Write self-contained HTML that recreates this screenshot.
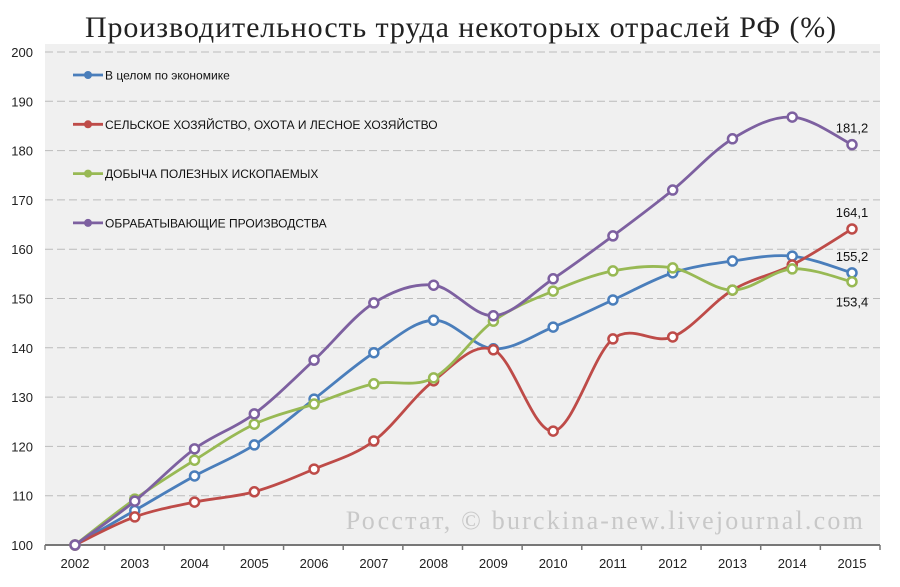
<!DOCTYPE html>
<html><head><meta charset="utf-8"><style>
body{margin:0;background:#fff;width:900px;height:582px;overflow:hidden}
svg text{font-family:"Liberation Sans",sans-serif}
</style></head><body>
<svg width="900" height="582">
<rect x="0" y="0" width="900" height="582" fill="#fff"/>
<rect x="45" y="44" width="835" height="501" fill="#f0f0f0"/>
<text x="461" y="37" text-anchor="middle" font-size="30" letter-spacing="0.9" style="font-family:'Liberation Serif',serif" fill="#222">Производительность труда некоторых отраслей РФ (%)</text>
<g id="grid"></g><g id="axes"></g>
<text x="865" y="529" text-anchor="end" font-size="26" letter-spacing="2.2" style="font-family:'Liberation Serif',serif" fill="#c8c8c8">Росстат, © burckina-new.livejournal.com</text>
<g id="series"></g><g id="legend"></g>
</svg>
<script>
const years=[2002,2003,2004,2005,2006,2007,2008,2009,2010,2011,2012,2013,2014,2015];
const economy=[100,107,114,120.3,129.6,139,145.6,139.8,144.2,149.7,155.2,157.6,158.6,155.2];
const agriculture=[100,105.7,108.7,110.8,115.4,121.1,133.3,139.6,123.1,141.8,142.2,151.7,156.8,164.1];
const mining=[100,109.3,117.2,124.5,128.6,132.7,133.9,145.4,151.5,155.6,156.2,151.7,156,153.4];
const manufacturing=[100,108.9,119.5,126.6,137.5,149.1,152.7,146.5,154,162.7,172,182.4,186.8,181.2];
const yTicks=[100,110,120,130,140,150,160,170,180,190,200];
const names=["В целом по экономике","СЕЛЬСКОЕ ХОЗЯЙСТВО, ОХОТА И ЛЕСНОЕ ХОЗЯЙСТВО","ДОБЫЧА ПОЛЕЗНЫХ ИСКОПАЕМЫХ","ОБРАБАТЫВАЮЩИЕ ПРОИЗВОДСТВА"];
const NS="http://www.w3.org/2000/svg";
const X=i=>75+i*(852-75)/13;
const Y=v=>545-(v-100)*4.93;
function mk(t,a,p){const e=document.createElementNS(NS,t);for(const k in a)e.setAttribute(k,a[k]);p.appendChild(e);return e;}
const grid=document.getElementById('grid'),axes=document.getElementById('axes'),ser=document.getElementById('series'),leg=document.getElementById('legend');
yTicks.forEach(v=>{
 if(v>100){const l=mk('line',{x1:45,x2:880,y1:Y(v),y2:Y(v),stroke:'#bbb','stroke-dasharray':'8,4','stroke-width':1},grid);
 
 }
 const t=mk('text',{x:33,y:Y(v)+5,'text-anchor':'end','font-size':13,fill:'#222'},axes);t.textContent=v;
 
 
});
const ax=mk('line',{x1:45,x2:880,y1:545,y2:545,stroke:'#777','stroke-width':2},axes);


for(let i=0;i<=14;i++){const x=45+i*(835/14);mk('line',{x1:x,x2:x,y1:545,y2:550,stroke:'#777','stroke-width':1.5},axes);}
years.forEach((y,i)=>{const t=mk('text',{x:X(i),y:568,'text-anchor':'middle','font-size':13,fill:'#222'},axes);t.textContent=y;
 
 });
function path(d){let p=`M${X(0)},${Y(d[0])}`;for(let i=0;i<d.length-1;i++){const p0=[X(Math.max(i-1,0)),Y(d[Math.max(i-1,0)])],p1=[X(i),Y(d[i])],p2=[X(i+1),Y(d[i+1])],p3=[X(Math.min(i+2,d.length-1)),Y(d[Math.min(i+2,d.length-1)])];const t=1/6;
p+=` C${p1[0]+(p2[0]-p0[0])*t},${p1[1]+(p2[1]-p0[1])*t} ${p2[0]-(p3[0]-p1[0])*t},${p2[1]-(p3[1]-p1[1])*t} ${p2[0]},${p2[1]}`;}return p;}
const all=[[economy,'#4a7ebb','economy'],[agriculture,'#be4b48','agriculture'],[mining,'#98b954','mining'],[manufacturing,'#7d60a0','manufacturing']];
all.forEach(([d,c,n],k)=>{
 const g=mk('g',{},ser);
 
 
 mk('path',{d:path(d),fill:'none',stroke:c,'stroke-width':2.8},g);
 d.forEach((v,i)=>{const m=mk('circle',{cx:X(i),cy:Y(v),r:4.5,fill:'#fff',stroke:c,'stroke-width':2.5},g);
 
 });
 const ly=75+k*49.3;
 const lg=mk('g',{},leg);
 
 
 mk('line',{x1:73,x2:103,y1:ly,y2:ly,stroke:c,'stroke-width':2.8},lg);
 mk('circle',{cx:88,cy:ly,r:4,fill:c},lg);
 const t=mk('text',{x:105,y:ly+4.5,'font-size':12,fill:'#111'},lg);t.textContent=names[k];
});
const labs=[[manufacturing,-16,'181,2'],[agriculture,-16,'164,1'],[economy,-16,'155,2'],[mining,21,'153,4']];
labs.forEach(([d,dy,s])=>{const v=d[13];const t=mk('text',{x:X(13),y:Y(v)+dy+4,'text-anchor':'middle','font-size':13,fill:'#111'},leg);t.textContent=String(v).replace('.',',');
 
 });
</script>
</body></html>
